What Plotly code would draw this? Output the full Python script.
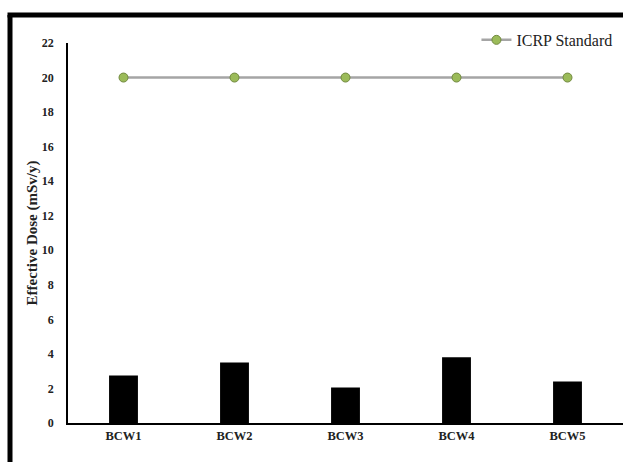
import plotly.graph_objects as go

categories = ["BCW1", "BCW2", "BCW3", "BCW4", "BCW5"]
effective_dose = [2.75, 3.5, 2.05, 3.8, 2.4]
icrp_standard = [20, 20, 20, 20, 20]

fig = go.Figure()
fig.add_trace(go.Bar(
    x=categories, y=effective_dose, width=0.26,
    marker=dict(color="black", line=dict(width=0)),
    showlegend=False, name="Effective Dose"))
fig.add_trace(go.Scatter(
    x=categories, y=icrp_standard, mode="lines+markers",
    name="ICRP Standard",
    line=dict(color="#A5A5A5", width=2.5),
    marker=dict(size=9, color="#9BBB59", line=dict(color="#71893F", width=1))))

fig.update_layout(
    width=623, height=462,
    margin=dict(l=68, r=0, t=43, b=39, autoexpand=False),
    paper_bgcolor="white", plot_bgcolor="white",
    font=dict(family="Liberation Serif", color="#222"),
    legend=dict(x=0.99, y=1.008, xanchor="right", yanchor="middle",
                font=dict(size=16, family="Liberation Serif", color="#222"),
                bgcolor="rgba(0,0,0,0)", itemwidth=30),
    xaxis=dict(showgrid=False, showline=True, linecolor="black", linewidth=1.5,
               ticks="", tickfont=dict(size=12.5, family="Liberation Serif", color="#222", weight="bold"),
               range=[-0.5, 4.5]),
    yaxis=dict(range=[0, 22], dtick=2, showgrid=False, zeroline=False,
               showline=True, linecolor="black", linewidth=1.5, ticks="",
               ticklabelstandoff=10,
               tickfont=dict(size=12, family="Liberation Serif", color="#222", weight="bold"),
               title=dict(text="Effective Dose (mSv/y)", standoff=1,
                          font=dict(size=15, family="Liberation Serif", color="#222", weight="bold"))),
    shapes=[
        dict(type="line", xref="paper", yref="paper", x0=-0.1045, x1=-0.1045, y0=1.0737, y1=-0.2,
             line=dict(color="black", width=5)),
        dict(type="line", xref="paper", yref="paper", x0=-0.1090, x1=1.0, y0=1.0737, y1=1.0737,
             line=dict(color="black", width=5)),
    ],
)

post = (
    "var s=document.createElement('style');"
    "s.textContent='html,body{margin:0;padding:0;overflow:hidden;scrollbar-width:none;}"
    "::-webkit-scrollbar{display:none;width:0;height:0;}';"
    "document.head.appendChild(s);"
)
fig.write_html("out.html", config={"displayModeBar": False}, post_script=post)
